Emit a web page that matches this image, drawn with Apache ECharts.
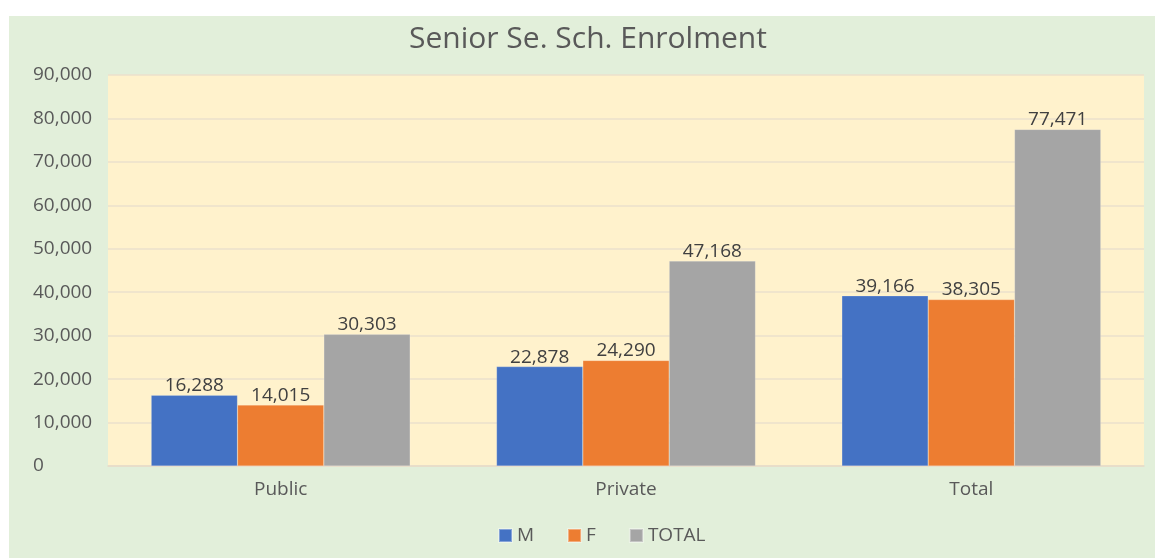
<!DOCTYPE html>
<html>
<head>
<meta charset="utf-8">
<script src="https://cdn.jsdelivr.net/npm/echarts@6/dist/echarts.min.js"></script>
<style>
  html, body { margin: 0; padding: 0; background: #ffffff; }
  #chart { position: absolute; left: 9px; top: 16px; width: 1146px; height: 542px; }
</style>
</head>
<body>
<div id="chart"></div>
<script>
// 数据
const categories = ['Public', 'Private', 'Total'];
const maleValues = [16288, 22878, 39166];
const femaleValues = [14015, 24290, 38305];
const totalValues = [30303, 47168, 77471];
const seriesNames = ['M', 'F', 'TOTAL'];
const seriesColors = ['#4472c4', '#ed7d31', '#a5a5a5'];

const chart = echarts.init(document.getElementById('chart'));
const fontFamily = '"Open Sans", sans-serif';

const labelStyle = {
    show: true,
    position: 'top',
    distance: 0,
    color: '#404040',
    fontSize: 19,
    fontFamily: fontFamily,
    formatter: p => p.value.toLocaleString('en-US')
};

function makeSeries(name, data, color) {
    return {
        name: name,
        type: 'bar',
        data: data,
        barGap: '0%',
        barCategoryGap: '25%',
        itemStyle: { color: color, borderColor: 'rgba(255,255,255,0.35)', borderWidth: 0.5 },
        label: labelStyle
    };
}

const option = {
    backgroundColor: '#e2efda',
    animation: false,
    title: {
        text: 'Senior Se. Sch. Enrolment',
        left: 395,
        top: 3,
        textStyle: { color: '#595959', fontSize: 30, fontWeight: 'normal', fontFamily: fontFamily }
    },
    legend: {
        data: seriesNames,
        bottom: 8,
        left: 484,
        itemWidth: 13,
        itemHeight: 13,
        itemGap: 33,
        icon: 'rect',
        textStyle: { color: '#595959', fontSize: 19, fontFamily: fontFamily }
    },
    grid: {
        left: 99,
        right: 11,
        top: 59,
        bottom: 92,
        show: true,
        backgroundColor: '#fff2cc',
        borderWidth: 0
    },
    xAxis: {
        type: 'category',
        data: categories,
        axisLine: { lineStyle: { color: '#e6dcc8', width: 1.5 } },
        axisTick: { show: false },
        axisLabel: { color: '#595959', fontSize: 19, margin: 14, fontFamily: fontFamily }
    },
    yAxis: {
        type: 'value',
        min: 0,
        max: 90000,
        interval: 10000,
        axisLine: { show: false },
        axisTick: { show: false },
        splitLine: { lineStyle: { color: '#ebe1cc', width: 1.5 } },
        axisLabel: {
            color: '#595959',
            fontSize: 19,
            fontFamily: fontFamily,
            align: 'left',
            margin: 75,
            formatter: v => v.toLocaleString('en-US')
        }
    },
    series: [
        makeSeries(seriesNames[0], maleValues, seriesColors[0]),
        makeSeries(seriesNames[1], femaleValues, seriesColors[1]),
        makeSeries(seriesNames[2], totalValues, seriesColors[2])
    ]
};

chart.setOption(option);
</script>
</body>
</html>
